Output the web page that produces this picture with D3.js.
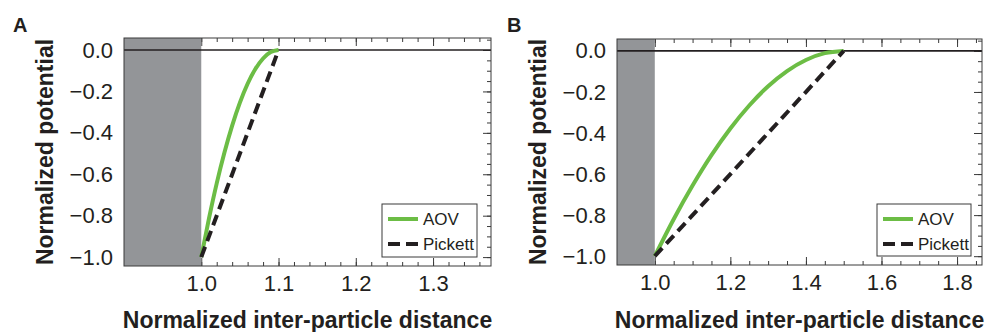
<!DOCTYPE html>
<html>
<head>
<meta charset="utf-8">
<script src="https://cdn.jsdelivr.net/npm/d3@7"></script>
<style>
  body { margin: 0; background: #fff; }
  svg { display: block; }
  text { font-family: "Liberation Sans", Arial, Helvetica, sans-serif; fill: #231f20; }
</style>
</head>
<body>
<div id="chart"></div>
<script>
// series + values
const seriesNames = ["AOV", "Pickett"];

const distA = [1.00, 1.01, 1.02, 1.03, 1.04, 1.05, 1.06, 1.07, 1.08, 1.09, 1.10];
const aovA = [-1.0, -0.813, -0.644, -0.495, -0.365, -0.254, -0.163, -0.092, -0.041, -0.010, 0.0];
const pickettDistA = [1.0, 1.1];
const pickettA = [-1.0, 0.0];

const distB = [1.00, 1.05, 1.10, 1.15, 1.20, 1.25, 1.30, 1.35, 1.40, 1.45, 1.50];
const aovB = [-1.0, -0.820, -0.656, -0.508, -0.378, -0.266, -0.172, -0.098, -0.044, -0.011, 0.0];
const pickettDistB = [1.0, 1.5];
const pickettB = [-1.0, 0.0];

const coreStart = 0.9;   // shaded hard-core region
const coreEnd = 1.0;

const xTicksA = [1.0, 1.1, 1.2, 1.3];
const xTicksB = [1.0, 1.2, 1.4, 1.6, 1.8];
const yTicks = [0.0, -0.2, -0.4, -0.6, -0.8, -1.0];

const W = 987, H = 332;
const green = "#6cbd45", ink = "#231f20", frameCol = "#3a3a3a";

const svg = d3.select("#chart").append("svg")
  .attr("width", W)
  .attr("height", H);

function drawPanel(cfg) {
  const { letter, left, right, top, bottom, xDomain, xTicks, xMinor, aovX, aovY, pickX, pickY, legend } = cfg;

  const x = d3.scaleLinear().domain(xDomain).range([left, right]);
  const y = d3.scaleLinear().domain([-1.043, 0.058]).range([bottom, top]);

  const g = svg.append("g");

  const xMinorTicks = d3.range(xDomain[0], xDomain[1] + 1e-9, xMinor).map(v => +v.toFixed(3));
  const yMinorTicks = d3.range(-1.0, 0.06, 0.05).map(v => +v.toFixed(3));

  // minor ticks (inside, all four sides)
  g.append("g").attr("transform", `translate(0,${bottom})`)
    .call(d3.axisBottom(x).tickValues(xMinorTicks).tickSize(-4).tickFormat(""));
  g.append("g").attr("transform", `translate(0,${top})`)
    .call(d3.axisTop(x).tickValues(xMinorTicks).tickSize(-4).tickFormat(""));
  g.append("g").attr("transform", `translate(${right},0)`)
    .call(d3.axisRight(y).tickValues(yMinorTicks).tickSize(-4).tickFormat(""));

  // major ticks + labels
  const xAxis = g.append("g").attr("transform", `translate(0,${bottom})`)
    .call(d3.axisBottom(x).tickValues(xTicks).tickSize(-8).tickPadding(9).tickFormat(d3.format(".1f")));
  g.append("g").attr("transform", `translate(0,${top})`)
    .call(d3.axisTop(x).tickValues(xTicks).tickSize(-8).tickFormat(""));
  const yAxis = g.append("g").attr("transform", `translate(${left},0)`)
    .call(d3.axisLeft(y).tickValues(yTicks).tickSize(-8).tickPadding(11).tickFormat(d3.format(".1f")));
  g.append("g").attr("transform", `translate(${right},0)`)
    .call(d3.axisRight(y).tickValues(yTicks).tickSize(-8).tickFormat(""));

  g.selectAll(".domain").remove();
  g.selectAll(".tick line").attr("stroke", frameCol).attr("stroke-width", 1);
  [xAxis, yAxis].forEach(a => a.selectAll("text")
    .style("font-size", "22px")
    .style("font-family", '"Liberation Sans", Arial, sans-serif')
    .attr("fill", ink));

  // hard-core region
  g.append("rect")
    .attr("x", x(coreStart))
    .attr("y", top)
    .attr("width", x(coreEnd) - x(coreStart))
    .attr("height", bottom - top)
    .attr("fill", "#939598");

  // zero line
  g.append("line")
    .attr("x1", left).attr("x2", right)
    .attr("y1", y(0)).attr("y2", y(0))
    .attr("stroke", ink)
    .attr("stroke-width", 1.6);

  const aovLine = d3.line()
    .x((d, i) => x(aovX[i]))
    .y(d => y(d))
    .curve(d3.curveMonotoneX);

  g.append("path")
    .datum(aovY)
    .attr("fill", "none")
    .attr("stroke", green)
    .attr("stroke-width", 4)
    .attr("d", aovLine);

  const pickLine = d3.line()
    .x((d, i) => x(pickX[i]))
    .y(d => y(d));

  g.append("path")
    .datum(pickY)
    .attr("fill", "none")
    .attr("stroke", ink)
    .attr("stroke-width", 4)
    .attr("stroke-dasharray", "11,6")
    .attr("d", pickLine);

  // frame
  g.append("rect")
    .attr("x", left).attr("y", top)
    .attr("width", right - left).attr("height", bottom - top)
    .attr("fill", "none")
    .attr("stroke", frameCol)
    .attr("stroke-width", 1);

  // axis titles
  g.append("text")
    .attr("x", (left + right) / 2)
    .attr("y", 328)
    .attr("text-anchor", "middle")
    .style("font-size", "23px")
    .style("font-weight", "bold")
    .text("Normalized inter-particle distance");

  g.append("text")
    .attr("transform", `translate(${left - 71},${(top + bottom) / 2}) rotate(-90)`)
    .attr("text-anchor", "middle")
    .style("font-size", "23px")
    .style("font-weight", "bold")
    .text("Normalized potential");

  // panel letter
  g.append("text")
    .attr("x", cfg.letterX)
    .attr("y", 32)
    .style("font-size", "20px")
    .style("font-weight", "bold")
    .text(letter);

  // legend
  const lg = g.append("g");
  lg.append("rect")
    .attr("x", legend.x).attr("y", legend.y)
    .attr("width", legend.w).attr("height", legend.h)
    .attr("fill", "#fff")
    .attr("stroke", frameCol)
    .attr("stroke-width", 1);

  seriesNames.forEach((name, i) => {
    const ly = legend.y + 15 + i * 25;
    lg.append("line")
      .attr("x1", legend.x + 6).attr("x2", legend.x + 36)
      .attr("y1", ly).attr("y2", ly)
      .attr("stroke", i === 0 ? green : ink)
      .attr("stroke-width", 4)
      .attr("stroke-dasharray", i === 0 ? null : "12,6");
    lg.append("text")
      .attr("x", legend.x + 41)
      .attr("y", ly + 6)
      .style("font-size", "17px")
      .text(name);
  });
}

drawPanel({
  letter: "A", letterX: 13,
  left: 124, right: 491, top: 38, bottom: 266,
  xDomain: [0.9, 1.375], xTicks: xTicksA, xMinor: 0.02,
  aovX: distA, aovY: aovA, pickX: pickettDistA, pickY: pickettA,
  legend: { x: 382, y: 204, w: 95, h: 53 }
});

drawPanel({
  letter: "B", letterX: 507,
  left: 617, right: 982, top: 39, bottom: 265,
  xDomain: [0.9, 1.866], xTicks: xTicksB, xMinor: 0.05,
  aovX: distB, aovY: aovB, pickX: pickettDistB, pickY: pickettB,
  legend: { x: 877, y: 204, w: 94, h: 52 }
});
</script>
</body>
</html>
